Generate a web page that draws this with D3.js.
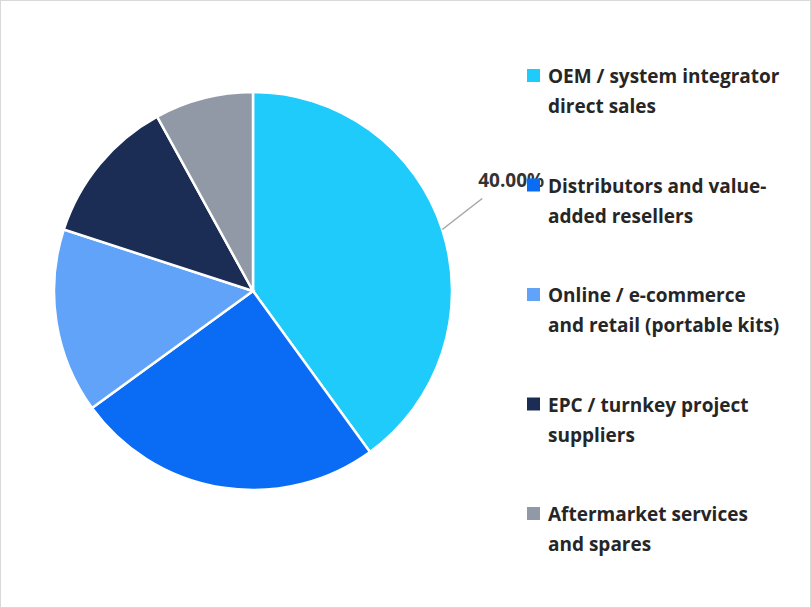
<!DOCTYPE html>
<html><head><meta charset="utf-8">
<script src="https://cdn.jsdelivr.net/npm/d3@7"></script>
<style>body{margin:0;background:#fff;font-family:"Open Sans",sans-serif;}</style>
</head><body>
<script>
// chart data
var categories = [
  ["OEM / system integrator", "direct sales"],
  ["Distributors and value-", "added resellers"],
  ["Online / e-commerce", "and retail (portable kits)"],
  ["EPC / turnkey project", "suppliers"],
  ["Aftermarket services", "and spares"]
];
var shares = [40, 25, 15, 12, 8];
var colors = ["#1FCBFB", "#0A6BF5", "#62A3FA", "#1B2D55", "#9199A6"];

var width = 811, height = 608;
var cx = 253, cy = 291, radius = 199;

var svg = d3.select("body").append("svg")
  .attr("width", width).attr("height", height);

svg.append("rect")
  .attr("x", 0.5).attr("y", 0.5)
  .attr("width", width - 1).attr("height", height - 1)
  .attr("fill", "#fff").attr("stroke", "#d9d9d9");

var pie = d3.pie().sort(null).value(d => d);
var arcs = pie(shares);
var arc = d3.arc().innerRadius(0).outerRadius(radius);

var g = svg.append("g").attr("transform", `translate(${cx},${cy})`);
g.selectAll("path").data(arcs).enter().append("path")
  .attr("d", arc)
  .attr("fill", (d, i) => colors[i])
  .attr("stroke", "#fff").attr("stroke-width", 2.5);

// label for the largest slice with leader line
var first = arcs[0];
var mid = (first.startAngle + first.endAngle) / 2;
var p0 = [Math.sin(mid) * radius, -Math.cos(mid) * radius];
var p1 = [Math.sin(mid) * (radius + 42), -Math.cos(mid) * (radius + 42) - 18];
g.append("polyline")
  .attr("points", [p0, p1].map(p => p.join(",")).join(" "))
  .attr("fill", "none").attr("stroke", "#a6a6a6").attr("stroke-width", 1.5);
g.append("text")
  .attr("x", p1[0] - 4).attr("y", p1[1] - 12)
  .attr("font-size", 19).attr("font-weight", "bold").attr("fill", "#333")
  .text(shares[0].toFixed(2) + "%");

// legend
var legend = svg.append("g").attr("transform", "translate(527,76)");
var rows = legend.selectAll("g").data(categories).enter().append("g")
  .attr("transform", (d, i) => `translate(0,${i * 109.5})`);
rows.append("rect")
  .attr("x", 0).attr("y", -7).attr("width", 13).attr("height", 13)
  .attr("fill", (d, i) => colors[i]);
rows.append("text")
  .attr("x", 21).attr("y", 7)
  .attr("font-size", 19).attr("font-weight", "bold").attr("fill", "#262626")
  .selectAll("tspan").data(d => d).enter().append("tspan")
  .attr("x", 21).attr("dy", (d, i) => i ? 30 : 0)
  .text(d => d);
</script>
</body></html>
